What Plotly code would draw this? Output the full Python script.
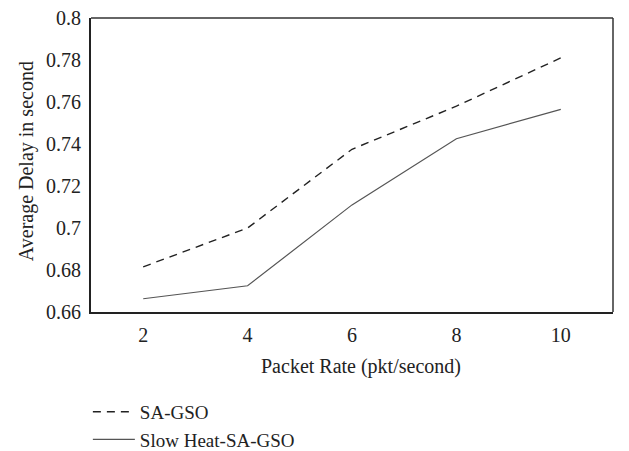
import plotly.graph_objects as go

packet_rate = ["2", "4", "6", "8", "10"]
sa_gso = [0.6815, 0.700, 0.7375, 0.758, 0.781]
slow_heat_sa_gso = [0.6663, 0.6725, 0.711, 0.7425, 0.7565]
y_ticks = [0.66, 0.68, 0.70, 0.72, 0.74, 0.76, 0.78, 0.80]
y_tick_labels = ["0.66", "0.68", "0.7", "0.72", "0.74", "0.76", "0.78", "0.8"]

ff = "Liberation Serif"
fc = "#222222"
fs = 20

fig = go.Figure()
fig.add_trace(go.Scatter(x=packet_rate, y=sa_gso, mode="lines", name="SA-GSO",
                         line=dict(color="#222222", width=1.4, dash="8px,6px")))
fig.add_trace(go.Scatter(x=packet_rate, y=slow_heat_sa_gso, mode="lines", name="Slow Heat-SA-GSO",
                         line=dict(color="#555555", width=1.2)))

fig.update_layout(
    width=629, height=451,
    margin=dict(l=91, r=16, t=18, b=139, autoexpand=False),
    paper_bgcolor="white", plot_bgcolor="white",
    font=dict(family=ff, size=fs, color=fc),
    showlegend=True,
    legend=dict(x=-0.006, y=-0.275, xanchor="left", yanchor="top",
                font=dict(family=ff, size=19, color=fc), tracegroupgap=0, itemwidth=42,
                bgcolor="rgba(0,0,0,0)"),
    xaxis=dict(type="category", range=[-0.5, 4.5], showgrid=False, zeroline=False,
               showline=True, linecolor="#222222", linewidth=2, ticks="",
               ticklabelstandoff=4,
               tickfont=dict(family=ff, size=fs, color=fc)),
    yaxis=dict(range=[0.66, 0.80], tickvals=y_ticks, ticktext=y_tick_labels,
               showgrid=False, zeroline=False, showline=True, linecolor="#222222",
               linewidth=2, ticks="", ticklabelstandoff=4,
               tickfont=dict(family=ff, size=fs, color=fc)),
    annotations=[
        dict(text="Packet Rate (pkt/second)", xref="paper", yref="paper",
             x=0.517, y=-0.187, xanchor="center", yanchor="middle", showarrow=False,
             font=dict(family=ff, size=fs, color=fc)),
        dict(text="Average Delay in second", xref="paper", yref="paper",
             x=-0.122, y=0.514, xanchor="center", yanchor="middle", showarrow=False,
             textangle=-90, font=dict(family=ff, size=fs, color=fc)),
    ],
    shapes=[
        dict(type="line", xref="paper", yref="paper", x0=0, x1=1, y0=1, y1=1,
             line=dict(color="#333333", width=1.5)),
        dict(type="line", xref="paper", yref="paper", x0=1, x1=1, y0=0, y1=1,
             line=dict(color="#333333", width=1.5)),
    ],
)

fig.write_html("out.html", config={"displayModeBar": False},
               post_script="document.body.style.margin='0';document.body.style.overflow='hidden';")
